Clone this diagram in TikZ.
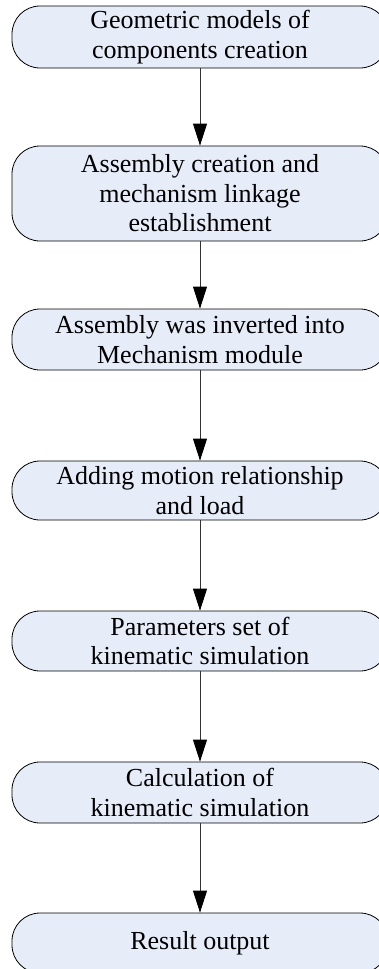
\documentclass[tikz,border=0pt]{standalone}
\usepackage{fontspec}
\setmainfont{Liberation Serif}
\usetikzlibrary{arrows.meta}
\definecolor{boxfill}{RGB}{230,236,248}
\tikzset{
  flowbox/.style={draw=black, line width=0.8pt, fill=boxfill, rounded corners=28pt,
    minimum width=376pt, inner sep=0pt, align=center,
    font=\fontsize{26}{29.5}\selectfont},
  flowarr/.style={draw=black!80, line width=0.8pt,
    -{Triangle[width=14pt,length=22pt,color=black]}}
}
\begin{document}
\begin{tikzpicture}[x=1pt,y=-1pt]
\useasboundingbox (0,0) rectangle (379,969);
\fill[white] (0,0) rectangle (379,969);
\clip (0,0) rectangle (379,969);
\node[flowbox, minimum height=62pt] (b1) at (200,37) {Geometric models of\\components creation};
\node[flowbox, minimum height=95pt] (b2) at (200,193.5) {Assembly creation and\\mechanism linkage\\establishment};
\node[flowbox, minimum height=61pt] (b3) at (200,339.5) {Assembly was inverted into\\Mechanism module};
\node[flowbox, minimum height=59pt] (b4) at (200,490.5) {Adding motion relationship\\and load};
\node[flowbox, minimum height=60pt] (b5) at (200,641) {Parameters set of\\kinematic simulation};
\node[flowbox, minimum height=61pt] (b6) at (200,792.5) {Calculation of\\kinematic simulation};
\node[flowbox, minimum height=60pt] (b7) at (200,943) {Result output};
\draw[flowarr] (b1) -- (b2);
\draw[flowarr] (b2) -- (b3);
\draw[flowarr] (b3) -- (b4);
\draw[flowarr] (b4) -- (b5);
\draw[flowarr] (b5) -- (b6);
\draw[flowarr] (b6) -- (b7);
\end{tikzpicture}
\end{document}
